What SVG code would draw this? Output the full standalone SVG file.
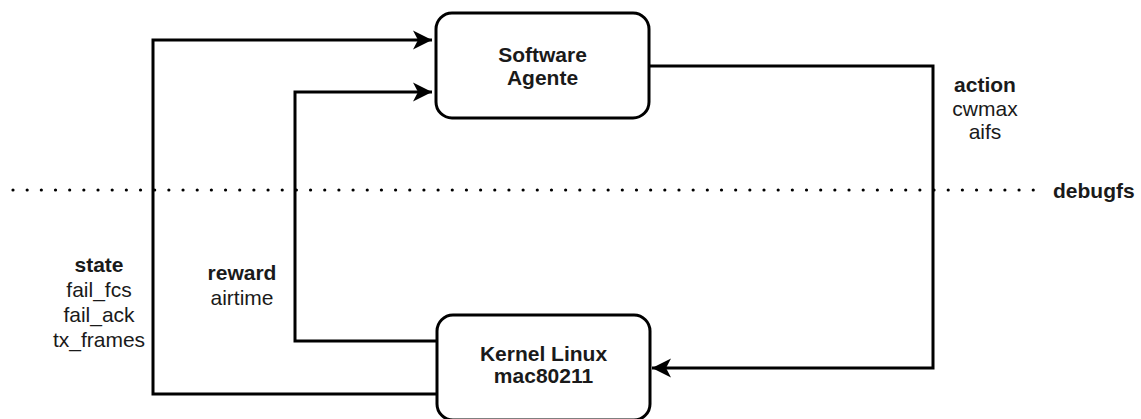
<svg xmlns="http://www.w3.org/2000/svg" width="1141" height="419" viewBox="0 0 1141 419">
<style>
.box{fill:#fff;stroke:#000;stroke-width:3}
.ln{fill:none;stroke:#000;stroke-width:3}
text{font-family:"Liberation Sans",Arial,sans-serif;font-size:21px;fill:#1a1a1a}
.b{font-weight:bold}
.c{text-anchor:middle}
</style>
<defs>
<marker id="arr" markerUnits="userSpaceOnUse" markerWidth="22" markerHeight="22" viewBox="-20 -11 22 22" refX="0" refY="0" orient="auto">
<path d="M0,0 L-19,-9.5 L-14,0 L-19,9.5 Z" fill="#000"/>
</marker>
</defs>
<g id="debugfs-line">
<line x1="13" y1="190" x2="1035" y2="190" stroke="#000" stroke-width="3.2" stroke-linecap="round" stroke-dasharray="0 14.17"/>
<text x="1053" y="198" class="b">debugfs</text>
</g>
<g id="connectors">
<path class="ln" d="M437,394 H153 V40 H432" marker-end="url(#arr)"/>
<path class="ln" d="M437,341 H295 V92 H432" marker-end="url(#arr)"/>
<path class="ln" d="M649,66 H933 V368 H652" marker-end="url(#arr)"/>
</g>
<g id="software-agente">
<rect class="box" x="436" y="13" width="213" height="105" rx="16" ry="16"/>
<text x="542.5" y="62" class="b c">Software</text>
<text x="542.5" y="85" class="b c">Agente</text>
</g>
<g id="kernel-linux">
<rect class="box" x="437" y="315" width="213" height="105" rx="16" ry="16"/>
<text x="543.5" y="361" class="b c">Kernel Linux</text>
<text x="543.5" y="383" class="b c">mac80211</text>
</g>
<g id="label-action">
<text x="985" y="92" class="b c">action</text>
<text x="985" y="116" class="c">cwmax</text>
<text x="985" y="139" class="c">aifs</text>
</g>
<g id="label-state">
<text x="99" y="272" class="b c">state</text>
<text x="99" y="297" class="c">fail_fcs</text>
<text x="99" y="322" class="c">fail_ack</text>
<text x="99" y="347" class="c">tx_frames</text>
</g>
<g id="label-reward">
<text x="242" y="280" class="b c">reward</text>
<text x="242" y="305" class="c">airtime</text>
</g>
</svg>
